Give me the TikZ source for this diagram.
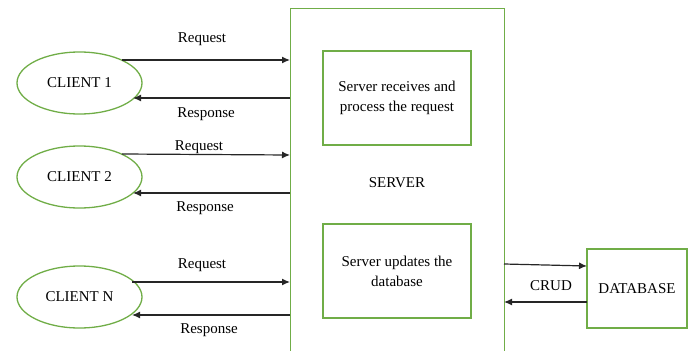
\documentclass[tikz,border=0pt]{standalone}
\usepackage{fontspec}
\setmainfont{Liberation Serif}
\newfontfamily\tms{Liberation Serif}
\usetikzlibrary{arrows.meta,shapes.geometric}
\definecolor{officegreen}{RGB}{112,173,71}
\begin{document}
\begin{tikzpicture}[x=1pt,y=-1pt,
  every node/.style={font=\tms\fontsize{15}{17}\selectfont, inner sep=0pt},
  client/.style={draw=officegreen, line width=1.3pt, ellipse, minimum width=125pt, minimum height=62pt},
  gbox/.style={draw=officegreen, line width=1.3pt, rectangle},
  flow/.style={draw=black!85, line width=1.2pt, -{Latex[length=8pt,width=7pt]}}]
\useasboundingbox (0,0) rectangle (689,351);
\clip (0,0) rectangle (689,351);

% server frame, open at the bottom edge
\node[gbox, minimum width=214pt, minimum height=380pt, anchor=north west] (server) at (290,8) {};
\node (servertxt) at (397,183) {SERVER};
\node[gbox, minimum width=148pt, minimum height=94pt, align=center] (recv) at (397,98)
  {Server receives and\\[3pt]process the request};
\node[gbox, minimum width=148pt, minimum height=94pt, align=center] (upd) at (397,271)
  {Server updates the\\[3pt]database};

% database
\node[gbox, minimum width=100pt, minimum height=79pt] (db) at (637,288.5) {DATABASE};

% clients
\node[client] (c1) at (79.5,83) {CLIENT 1};
\node[client] (c2) at (79.5,177) {CLIENT 2};
\node[client] (cn) at (79.5,297) {CLIENT N};

% request / response pairs
\coordinate (r1a) at (122,60);  \coordinate (r1b) at (290,60);
\coordinate (s1a) at (290,98);  \coordinate (s1b) at (133,98);
\draw[flow] (r1a) -- (r1b);
\draw[flow] (s1a) -- (s1b);
\node (rq1) at (202,39) {Request};
\node (rs1) at (206,114) {Response};

\coordinate (r2a) at (122,154); \coordinate (r2b) at (290,155);
\coordinate (s2a) at (290,193); \coordinate (s2b) at (133,193);
\draw[flow] (r2a) -- (r2b);
\draw[flow] (s2a) -- (s2b);
\node (rq2) at (199,147) {Request};
\node (rs2) at (205,208) {Response};

\coordinate (rna) at (132,282); \coordinate (rnb) at (290,282);
\coordinate (sna) at (290,315); \coordinate (snb) at (132,315);
\draw[flow] (rna) -- (rnb);
\draw[flow] (sna) -- (snb);
\node (rqn) at (202,265) {Request};
\node (rsn) at (209,330) {Response};

% CRUD link between server and database
\coordinate (d1a) at (504,264); \coordinate (d1b) at (587,266);
\coordinate (d2a) at (587,302); \coordinate (d2b) at (504,302);
\draw[flow] (d1a) -- (d1b);
\draw[flow] (d2a) -- (d2b);
\node (crud) at (551,286) {CRUD};
\end{tikzpicture}
\end{document}
